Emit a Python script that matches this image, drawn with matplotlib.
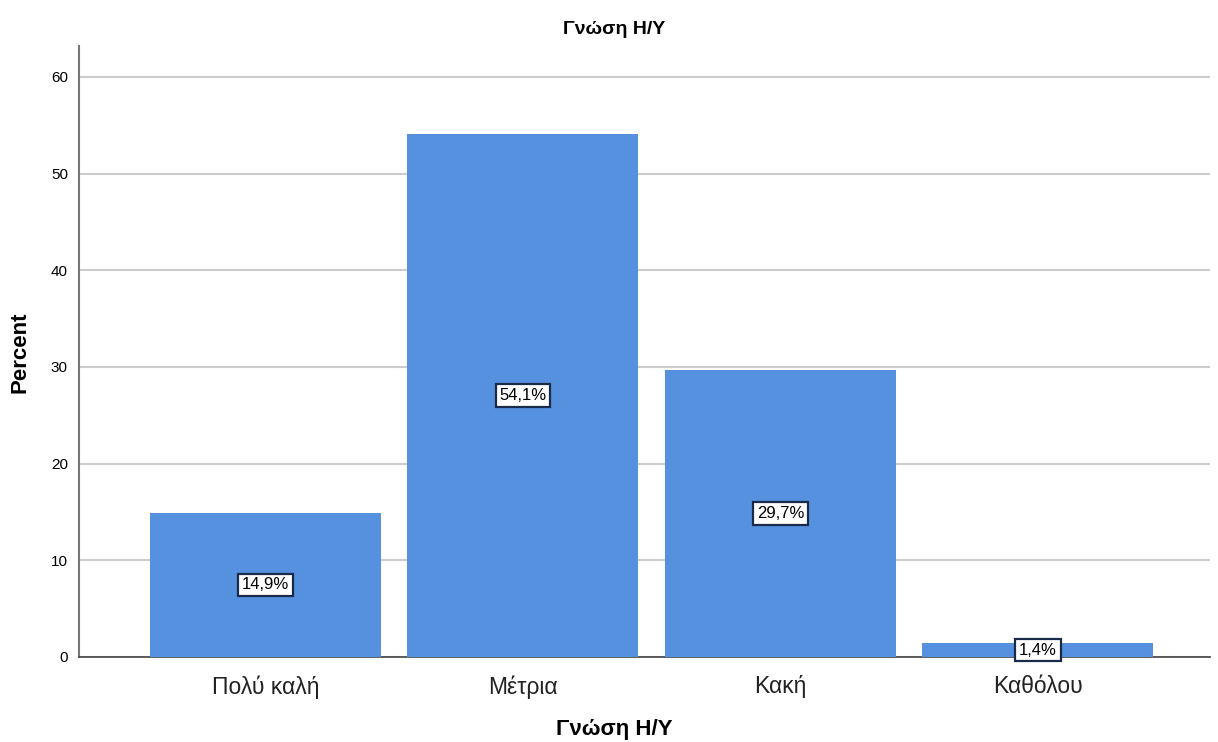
import matplotlib
matplotlib.use("Agg")
import matplotlib.pyplot as plt

categories = ["Πολύ καλή", "Μέτρια", "Κακή", "Καθόλου"]
percents = [14.9, 54.1, 29.7, 1.4]
labels = ["14,9%", "54,1%", "29,7%", "1,4%"]
yticks = [0, 10, 20, 30, 40, 50, 60]

fig = plt.figure(figsize=(12.18, 7.42), dpi=100)
ax = fig.add_axes([79/1218, 1-657/742, (1210-79)/1218, (657-46)/742])

x = list(range(len(categories)))
bars = ax.bar(x, percents, width=0.897, color="#5591DE", zorder=3)

for xi, v, lab in zip(x, percents, labels):
    ax.text(xi, v/2, lab, ha="center", va="center", fontsize=12,
            family=["Liberation Sans Narrow", "Liberation Sans", "DejaVu Sans"],
            bbox=dict(boxstyle="square,pad=0.22", fc="white", ec="#1a2a4a", lw=1.6),
            zorder=5)

ax.set_xlim(-0.724, 3.668)
ax.set_ylim(0, 63.2)
ax.set_yticks(yticks)
ax.set_yticklabels([str(t) for t in yticks], fontsize=11,
                   family=["Liberation Sans", "DejaVu Sans"])
ax.set_xticks(x)
ax.set_xticklabels(categories, fontsize=16.5,
                   family=["Liberation Sans Narrow", "Liberation Sans", "DejaVu Sans"],
                   color="#222222")
ax.tick_params(axis="both", length=0, pad=8)
ax.tick_params(axis="x", pad=13)

ax.yaxis.grid(True, color="#cccccc", lw=1.5, zorder=0)
ax.set_axisbelow(True)
for s in ["top", "right"]:
    ax.spines[s].set_visible(False)
ax.spines["left"].set_color("#777777")
ax.spines["left"].set_linewidth(1.5)
ax.spines["bottom"].set_color("#444444")
ax.spines["bottom"].set_linewidth(1.2)

fig.text(614/1218, 1-30/742, "Γνώση Η/Υ", ha="center", va="center", fontsize=14,
         fontweight="bold", family=["Liberation Sans", "DejaVu Sans"])
fig.text(614/1218, 1-729/742, "Γνώση Η/Υ", ha="center", va="center", fontsize=16,
         fontweight="bold", family=["Liberation Sans", "DejaVu Sans"])
fig.text(20/1218, 1-352/742, "Percent", ha="center", va="center", rotation=90,
         fontsize=16, fontweight="bold", family=["Liberation Sans", "DejaVu Sans"])

fig.savefig("out.png", dpi=100)
